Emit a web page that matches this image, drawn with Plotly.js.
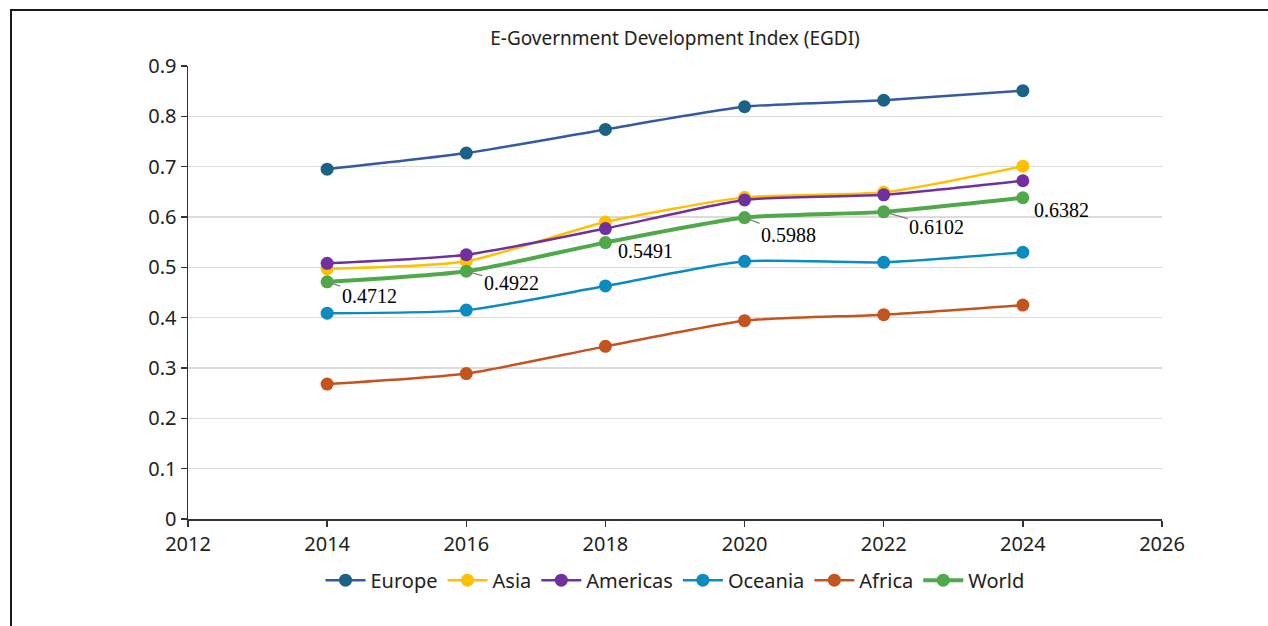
<!DOCTYPE html>
<html>
<head>
<meta charset="utf-8">
<script src="https://cdn.plot.ly/plotly-3.0.1.min.js"></script>
<style>
  html, body { margin: 0; padding: 0; background: #fff; }
  #wrap { position: relative; width: 1268px; height: 626px; overflow: hidden; }
  #chart { width: 1268px; height: 626px; }
  #frame { position: absolute; left: 10px; top: 9px; width: 1300px; height: 700px;
           border-left: 2px solid #1a1a1a; border-top: 2px solid #1a1a1a; pointer-events: none; }
</style>
</head>
<body>
<div id="wrap">
  <div id="chart"></div>
  <div id="frame"></div>
</div>
<script>
const years = [2014, 2016, 2018, 2020, 2022, 2024];
const europe   = [0.6950, 0.7270, 0.7740, 0.8190, 0.8320, 0.8510];
const asia     = [0.4970, 0.5120, 0.5900, 0.6390, 0.6490, 0.7010];
const americas = [0.5080, 0.5250, 0.5770, 0.6340, 0.6440, 0.6720];
const oceania  = [0.4090, 0.4150, 0.4630, 0.5120, 0.5100, 0.5300];
const africa   = [0.2680, 0.2890, 0.3430, 0.3940, 0.4060, 0.4250];
const world    = [0.4712, 0.4922, 0.5491, 0.5988, 0.6102, 0.6382];
const worldLabels = ['0.4712', '0.4922', '0.5491', '0.5988', '0.6102', '0.6382'];

// label offsets (pixels) and whether a leader line is drawn
const labelDx = [42, 45, 40, 44, 53, 39];
const labelDy = [14, 12, 8, 17, 15, 12];
const labelLeader = [true, true, false, true, true, false];

function series(name, y, lineColor, markerColor, width) {
  return {
    type: 'scatter', mode: 'lines+markers', name: name,
    x: years, y: y,
    line: { color: lineColor, width: width, shape: 'spline', smoothing: 0.6 },
    marker: { color: markerColor, size: 13 }
  };
}

const traces = [
  series('Europe', europe, '#3559a3', '#1b6386', 2.5),
  series('Asia', asia, '#ffc000', '#ffc000', 2.5),
  series('Americas', americas, '#7030a0', '#7030a0', 2.5),
  series('Oceania', oceania, '#0b8bc0', '#0b8bc0', 2.5),
  series('Africa', africa, '#c4541f', '#c4541f', 2.5),
  series('World', world, '#4fa84a', '#4fa84a', 4)
];

const annotations = years.map((yr, i) => {
  const base = {
    x: yr, y: world[i], xref: 'x', yref: 'y',
    text: worldLabels[i],
    font: { family: 'Liberation Serif, Times New Roman, serif', size: 20, color: '#000' }
  };
  if (labelLeader[i]) {
    return Object.assign(base, {
      showarrow: true, arrowhead: 0, arrowwidth: 1.3, arrowcolor: '#7f7f7f',
      ax: labelDx[i], ay: labelDy[i], standoff: 2
    });
  }
  return Object.assign(base, { showarrow: false, xshift: labelDx[i], yshift: -labelDy[i] });
});

const layout = {
  width: 1268, height: 626,
  margin: { l: 188, r: 106, t: 66, b: 107 },
  paper_bgcolor: '#fff', plot_bgcolor: '#fff',
  font: { family: 'Noto Sans, Open Sans, sans-serif', color: '#222' },
  title: {
    text: 'E-Government Development Index (EGDI)',
    font: { family: 'Noto Sans, sans-serif', size: 19, color: '#222' },
    x: 0.5, xanchor: 'center', xref: 'paper', y: 1 - 38 / 626, yanchor: 'middle'
  },
  xaxis: {
    range: [2012, 2026], dtick: 2, tick0: 2012,
    showgrid: false, zeroline: false,
    showline: true, linecolor: '#333', linewidth: 1.5,
    ticks: 'outside', ticklen: 6, tickcolor: '#333', tickwidth: 1.5,
    tickfont: { size: 20, color: '#222' }
  },
  yaxis: {
    range: [0, 0.9], dtick: 0.1, tick0: 0,
    showgrid: true, gridcolor: '#dcdcdc', gridwidth: 1.2,
    zeroline: false,
    showline: true, linecolor: '#333', linewidth: 1.5,
    ticks: 'outside', ticklen: 6, tickcolor: '#333', tickwidth: 1.5,
    tickfont: { size: 20, color: '#222' }
  },
  legend: {
    orientation: 'h', x: 0.5, xanchor: 'center', y: -0.135, yanchor: 'middle',
    font: { size: 20, color: '#222' }, itemwidth: 40, tracegroupgap: 0
  },
  annotations: annotations,
  showlegend: true
};

Plotly.newPlot('chart', traces, layout, { displayModeBar: false, staticPlot: true });
</script>
</body>
</html>
